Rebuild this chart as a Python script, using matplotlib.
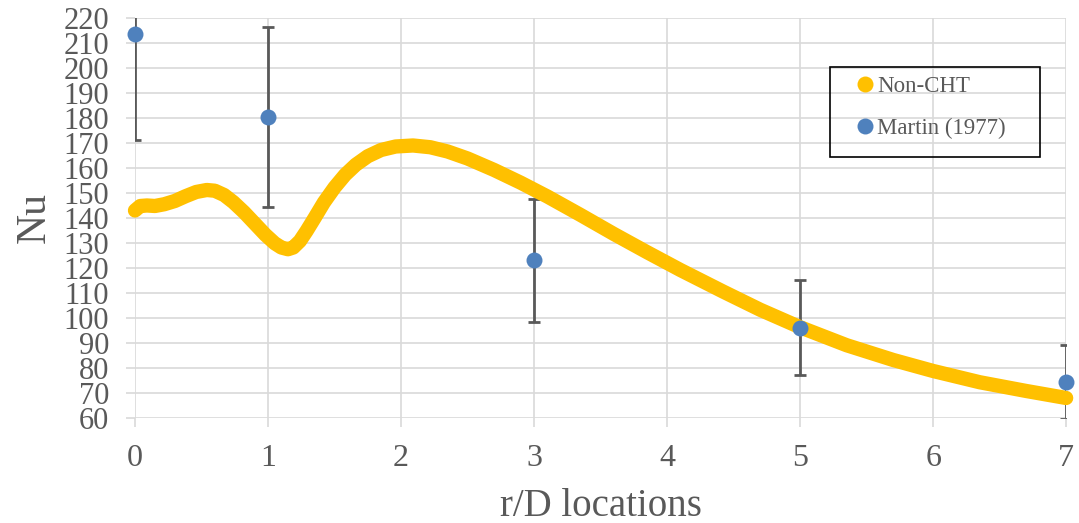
import matplotlib
matplotlib.use('Agg')
import matplotlib.pyplot as plt
from matplotlib.patches import Rectangle

plt.rcParams['font.family'] = ['Liberation Serif', 'DejaVu Serif']

# Non-CHT curve
r_cht = [0, 0.04, 0.09, 0.15, 0.22, 0.3, 0.38, 0.46, 0.54, 0.6, 0.67, 0.74,
         0.82, 0.9, 0.98, 1.05, 1.1, 1.15, 1.19, 1.24, 1.29, 1.35, 1.42, 1.5,
         1.58, 1.66, 1.75, 1.85, 1.96, 2.09, 2.22, 2.35, 2.5, 2.7, 2.9, 3.1,
         3.35, 3.6, 3.85, 4.1, 4.42, 4.7, 5.0, 5.35, 5.7, 6.0, 6.35, 6.7, 7.0]
nu_cht = [143, 144.8, 145, 144.8, 145.5, 146.8, 148.7, 150.4, 151.2, 150.9, 149.2, 146.3,
          142.3, 137.8, 133.3, 129.9, 128.2, 127.5, 128.2, 130.8, 134.8, 140, 146.2, 152.2,
          157.3, 161.3, 164.7, 167.2, 168.6, 169, 168.3, 166.6, 163.8, 159.2, 154.1, 148.6,
          141.2, 133.6, 126.3, 119.2, 110.6, 103.3, 96.3, 89.1, 83.2, 78.8, 74.3, 70.8, 68]

# Martin (1977) data with error bars
r_exp = [0, 1, 3, 5, 7]
nu_exp = [213.5, 180.5, 123, 96, 74.5]
nu_err = [42.5, 36, 24.5, 19, 14.8]

yellow = '#FFC000'
blue = '#4F81BD'
grey = '#595959'
grid = '#D9D9D9'

fig = plt.figure(figsize=(10.79, 5.23), dpi=100)
ax = fig.add_axes([0.1251, 0.2008, 0.8630, 0.7648])

ax.errorbar(r_exp, nu_exp, yerr=nu_err, fmt='none', ecolor=grey,
            elinewidth=2, capsize=4.5, capthick=2, zorder=2)
ax.plot(r_cht, nu_cht, color=yellow, lw=10.3, solid_capstyle='round',
        solid_joinstyle='round', clip_on=False, zorder=3, label='Non-CHT')
ax.plot(r_exp, nu_exp, 'o', color=blue, ms=11.5, mec='none', clip_on=False,
        zorder=4, label='Martin (1977)')

ax.set_xlim(0, 7)
ax.set_ylim(60, 220)
ax.set_xticks(range(0, 8))
ax.set_yticks(range(60, 221, 10))
ax.grid(True, color=grid, lw=1.2)
ax.set_axisbelow(True)
for s in ax.spines.values():
    s.set_visible(False)
ax.tick_params(axis='both', color=grid, width=1.2, length=6.5, labelcolor=grey)
ax.tick_params(axis='y', pad=12, labelsize=22)
ax.tick_params(axis='x', pad=12, labelsize=23)

ax.set_xlabel('r/D locations', fontsize=28, color=grey, labelpad=11)
ax.set_ylabel('Nu', fontsize=30, color=grey, labelpad=7)

# legend
leg = ax.legend(loc='upper left', bbox_to_anchor=(0.774, 0.855), frameon=False,
                fontsize=16.5, handlelength=0.8, handletextpad=0.12,
                labelspacing=0.9, borderpad=0, borderaxespad=0)
for t in leg.get_texts():
    t.set_color(grey)
h = leg.legend_handles
h[0].set_linestyle('none')
h[0].set_marker('o')
h[0].set_markersize(11.5)
h[0].set_markerfacecolor(yellow)
h[0].set_markeredgecolor('none')
h[1].set_markersize(11.5)
ax.add_patch(Rectangle((0.746, 0.6525), 0.226, 0.225, transform=ax.transAxes,
                       fill=False, edgecolor='black', lw=1.2, zorder=5, clip_on=False))

fig.savefig('out.png', dpi=100)
